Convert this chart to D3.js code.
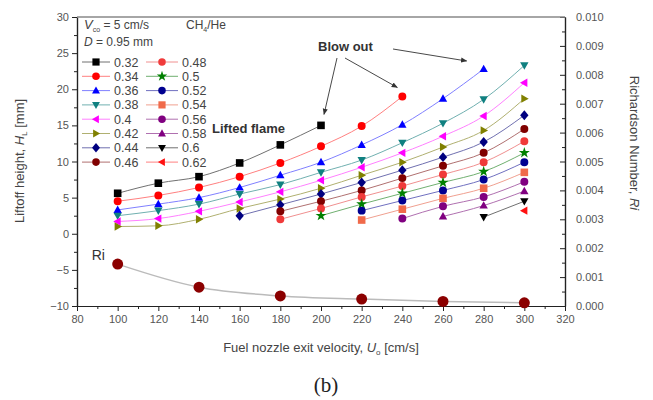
<!DOCTYPE html>
<html><head><meta charset="utf-8">
<script src="https://cdn.jsdelivr.net/npm/d3@7"></script>
<style>body{margin:0;background:#fff}svg{display:block;font-family:"Liberation Sans",Arial,sans-serif}</style>
</head><body><svg id="c" width="653" height="400"></svg>
<script>
const velocity = [100,120,140,160,180,200,220,240,260,280,300];
const seriesNames = ["0.32","0.34","0.36","0.38","0.4","0.42","0.44","0.46","0.48","0.5","0.52","0.54","0.56","0.58","0.6","0.62"];
const h032 = [5.6,7.0,7.9,9.8,12.3,15.0,null,null,null,null,null];
const h034 = [4.5,5.3,6.4,7.9,9.8,12.1,14.9,19.0,null,null,null];
const h036 = [3.3,4.1,5.0,6.4,8.1,9.9,12.3,15.1,18.7,22.8,null];
const h038 = [2.5,3.2,4.1,5.5,6.8,8.5,10.2,12.6,15.3,18.6,23.3];
const h040 = [1.7,2.1,3.1,4.4,5.8,7.4,9.2,11.2,13.5,16.3,20.9];
const h042 = [1.0,1.1,2.0,3.5,4.8,6.3,8.1,9.9,12.0,14.3,18.7];
const h044 = [null,null,null,2.5,4.0,5.5,7.1,8.8,10.6,12.7,16.4];
const h046 = [null,null,null,null,3.1,4.5,6.0,7.7,9.4,11.2,14.5];
const h048 = [null,null,null,null,2.0,3.5,5.1,6.6,8.2,9.9,12.8];
const h050 = [null,null,null,null,null,2.5,4.1,5.6,7.1,8.6,11.2];
const h052 = [null,null,null,null,null,null,3.2,4.6,6.0,7.5,9.9];
const h054 = [null,null,null,null,null,null,1.9,3.4,4.9,6.3,8.5];
const h056 = [null,null,null,null,null,null,null,2.1,3.8,5.1,7.2];
const h058 = [null,null,null,null,null,null,null,null,2.4,3.9,5.9];
const h060 = [null,null,null,null,null,null,null,null,null,2.3,4.5];
const h062 = [null,null,null,null,null,null,null,null,null,null,3.2];
const riVelocity = [100,140,180,220,260,300];
const riValues = [0.00145,0.00065,0.00035,0.00024,0.00016,0.00011];
const xTicks = [80,100,120,140,160,180,200,220,240,260,280,300,320];
const yTicks = [-10,-5,0,5,10,15,20,25,30];
const riTicks = [0,0.001,0.002,0.003,0.004,0.005,0.006,0.007,0.008,0.009,0.010];

const allSeries = [h032,h034,h036,h038,h040,h042,h044,h046,h048,h050,h052,h054,h056,h058,h060,h062];
const colors = ["#000000","#ff0000","#0000ff","#108080","#ff00ff","#808000","#000080","#800000","#f03a3a","#008000","#000090","#f06a4a","#800080","#800080","#000000","#ff1010"];
const lineColors = ["#707070","#ff8080","#8080ff","#70b0b0","#ff80ff","#b0b070","#7070b0","#b07070","#f09090","#70b070","#7070c0","#f0a090","#b070b0","#b070b0","#707070","#ff8080"];
const shapes = ["square","circle","up","down","left","right","diamond","circle","circle","star","circle","square","circle","up","down","left"];

const svg = d3.select("#c");
const L=77,R=565,T=17,B=306;
const x = d3.scaleLinear().domain([80,320]).range([L,R]);
const y = d3.scaleLinear().domain([-10,30]).range([B,T]);
const y2 = d3.scaleLinear().domain([0,0.010]).range([B,T]);

function sym(shape, s){
  switch(shape){
    case "square": return `M${-s},${-s}H${s}V${s}H${-s}Z`;
    case "circle": return d3.symbol(d3.symbolCircle, Math.PI*s*s*1.1)();
    case "up": return `M0,${-s*1.15}L${s*1.1},${s*0.8}L${-s*1.1},${s*0.8}Z`;
    case "down": return `M0,${s*1.15}L${s*1.1},${-s*0.8}L${-s*1.1},${-s*0.8}Z`;
    case "left": return `M${-s*1.15},0L${s*0.8},${-s*1.1}L${s*0.8},${s*1.1}Z`;
    case "right": return `M${s*1.15},0L${-s*0.8},${-s*1.1}L${-s*0.8},${s*1.1}Z`;
    case "diamond": return `M0,${-s*1.3}L${s*1.1},0L0,${s*1.3}L${-s*1.1},0Z`;
    case "star": return d3.symbol(d3.symbolStar, s*s*2.6)();
  }
}

// axes
const gx = svg.append("g").attr("transform",`translate(0,${B})`)
  .call(d3.axisBottom(x).tickValues(xTicks).tickSize(5).tickSizeOuter(0).tickPadding(4).tickFormat(d3.format("d")));
const gxm = svg.append("g").attr("transform",`translate(0,${B})`)
  .call(d3.axisBottom(x).tickValues(d3.range(90,320,20)).tickSize(3).tickSizeOuter(0).tickFormat(""));
const gy = svg.append("g").attr("transform",`translate(${L},0)`)
  .call(d3.axisLeft(y).tickValues(yTicks).tickSize(5).tickSizeOuter(0).tickPadding(3));
const gym = svg.append("g").attr("transform",`translate(${L},0)`)
  .call(d3.axisLeft(y).tickValues(d3.range(-7.5,30,5)).tickSize(3).tickSizeOuter(0).tickFormat(""));
const gr = svg.append("g").attr("transform",`translate(${R},0)`)
  .call(d3.axisRight(y2).tickValues(riTicks).tickSize(-5).tickSizeOuter(0).tickPadding(11).tickFormat(d3.format(".3f")));
const grm = svg.append("g").attr("transform",`translate(${R},0)`)
  .call(d3.axisRight(y2).tickValues(d3.range(0.0005,0.010,0.001)).tickSize(-3).tickSizeOuter(0).tickFormat(""));
[gx,gxm,gy,gym,gr,grm].forEach(g=>{
  g.selectAll("path.domain").attr("stroke","#222").attr("stroke-width",1.2);
  g.selectAll(".tick line").attr("stroke","#222");
  g.selectAll("text").attr("fill","#555").attr("font-size",11).attr("font-family","Liberation Sans, Arial, sans-serif");
});
svg.append("line").attr("x1",L).attr("x2",R).attr("y1",T).attr("y2",T).attr("stroke","#888").attr("stroke-width",1.5);

// series lines and markers
const line = d3.line().defined(d=>d[1]!=null).x(d=>x(d[0])).y(d=>y(d[1])).curve(d3.curveMonotoneX);
allSeries.forEach((s,i)=>{
  const pts = velocity.map((v,j)=>[v,s[j]]);
  svg.append("path").attr("d",line(pts)).attr("fill","none").attr("stroke",lineColors[i]).attr("stroke-width",1);
});
allSeries.forEach((s,i)=>{
  velocity.forEach((v,j)=>{
    if(s[j]==null) return;
    svg.append("path").attr("d",sym(shapes[i],3.8)).attr("transform",`translate(${x(v)},${y(s[j])})`).attr("fill",colors[i]);
  });
});

// Ri
const riLine = d3.line().x((d,i)=>x(riVelocity[i])).y(d=>y2(d)).curve(d3.curveMonotoneX);
svg.append("path").attr("d",riLine(riValues)).attr("fill","none").attr("stroke","#bbb").attr("stroke-width",1.5);
riValues.forEach((v,i)=>{
  svg.append("circle").attr("cx",x(riVelocity[i])).attr("cy",y2(v)).attr("r",5.5).attr("fill","#8b0000");
});
svg.append("text").attr("x",x(100)-26).attr("y",y2(riValues[0])-4).attr("font-size",14).attr("fill","#333").text("Ri");

// legend
seriesNames.forEach((n,i)=>{
  const col = Math.floor(i/8), row = i%8;
  const lx = col===0?82:146, ly = 62+row*14.3;
  const w = col===0?28:32;
  svg.append("line").attr("x1",lx).attr("x2",lx+w).attr("y1",ly).attr("y2",ly).attr("stroke",lineColors[i]).attr("stroke-width",1);
  svg.append("path").attr("d",sym(shapes[i],3.6)).attr("transform",`translate(${lx+w/2},${ly})`).attr("fill",colors[i]);
  svg.append("text").attr("x",lx+w+4).attr("y",ly+4.5).attr("font-size",12.5).attr("fill","#444").text(n);
});

// annotations
const t1 = svg.append("text").attr("x",84).attr("y",29).attr("font-size",12).attr("fill","#444");
t1.append("tspan").attr("font-style","italic").attr("font-size",13).text("V");
t1.append("tspan").attr("font-size",7).attr("dy",3).text("co");
t1.append("tspan").attr("dy",-3).text(" = 5 cm/s");
const t2 = svg.append("text").attr("x",186).attr("y",29).attr("font-size",12).attr("fill","#444");
t2.append("tspan").text("CH");
t2.append("tspan").attr("font-size",7).attr("dy",3).text("4");
t2.append("tspan").attr("dy",-3).text("/He");
const t3 = svg.append("text").attr("x",84).attr("y",46).attr("font-size",12).attr("fill","#444");
t3.append("tspan").attr("font-style","italic").text("D");
t3.append("tspan").text(" = 0.95 mm");

svg.append("text").attr("x",212).attr("y",133).attr("font-size",13).attr("font-weight","bold").attr("fill","#333").text("Lifted flame");
svg.append("text").attr("x",318).attr("y",51).attr("font-size",13).attr("font-weight","bold").attr("fill","#333").text("Blow out");

const defs = svg.append("defs");
defs.append("marker").attr("id","ah").attr("viewBox","0 0 10 10").attr("refX",9).attr("refY",5)
  .attr("markerWidth",7).attr("markerHeight",7).attr("orient","auto")
  .append("path").attr("d","M0,1L10,5L0,9Z").attr("fill","#333");
[[337,58,x(200)+3,y(15)-11],[345,58,x(240)-5,y(19)-9],[393,49,x(280)-17,y(22.8)-8]].forEach(a=>{
  svg.append("line").attr("x1",a[0]).attr("y1",a[1]).attr("x2",a[2]).attr("y2",a[3])
    .attr("stroke","#333").attr("stroke-width",0.9).attr("marker-end","url(#ah)");
});

// axis titles
const xt = svg.append("text").attr("x",321).attr("y",352).attr("text-anchor","middle").attr("font-size",13).attr("fill","#444");
xt.append("tspan").text("Fuel nozzle exit velocity, ");
xt.append("tspan").attr("font-style","italic").text("U");
xt.append("tspan").attr("font-size",8).attr("dy",3).text("o");
xt.append("tspan").attr("dy",-3).text(" [cm/s]");

const yt = svg.append("text").attr("transform","translate(24,161) rotate(-90)").attr("text-anchor","middle").attr("font-size",13).attr("fill","#444");
yt.append("tspan").text("Liftoff height, ");
yt.append("tspan").attr("font-style","italic").text("H");
yt.append("tspan").attr("font-size",8).attr("dy",3).text("L");
yt.append("tspan").attr("dy",-3).text(" [mm]");

const rt = svg.append("text").attr("transform","translate(630,143) rotate(90)").attr("text-anchor","middle").attr("font-size",13).attr("fill","#444");
rt.append("tspan").text("Richardson Number, ");
rt.append("tspan").attr("font-style","italic").text("Ri");

svg.append("text").attr("x",326).attr("y",392).attr("text-anchor","middle").attr("font-size",21).attr("font-family","Liberation Serif, serif").attr("fill","#222").text("(b)");
</script></body></html>
